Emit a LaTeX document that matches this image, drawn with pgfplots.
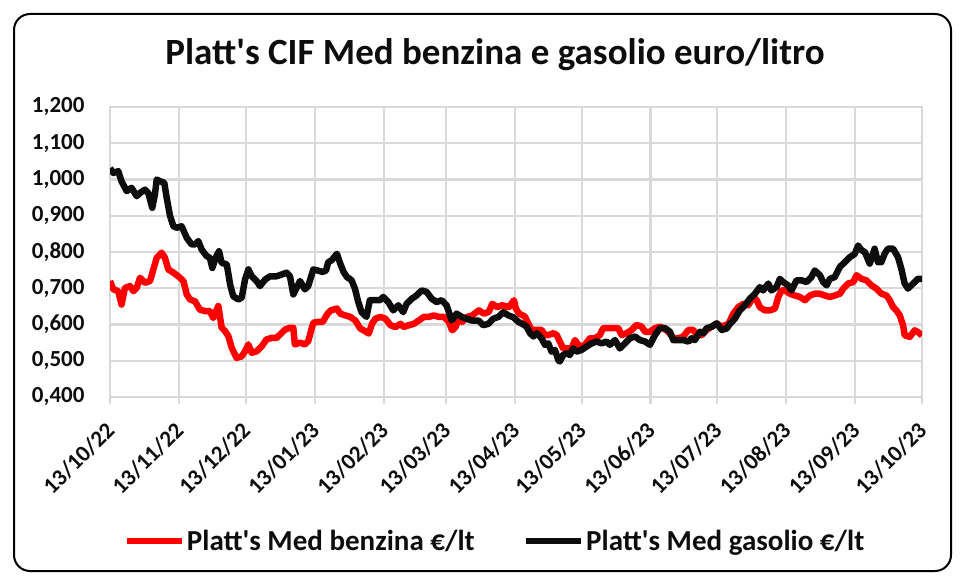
\documentclass[border=0pt]{standalone}
\usepackage{fontspec}
\setmainfont{Carlito}[Ligatures=TeXOff]
\usepackage{pgfplots}
\pgfplotsset{compat=1.18}
\definecolor{gridgray}{HTML}{D9D9D9}
\definecolor{lineblack}{HTML}{0D0D0D}
\definecolor{linered}{HTML}{FF0000}
\begin{document}
\begin{tikzpicture}[x=1pt,y=1pt]
\useasboundingbox (0,0) rectangle (962,-580);
\draw[line width=2pt, rounded corners=16pt, black] (14,-14) rectangle (951,-571);
\node[anchor=base, font=\fontsize{37}{44}\selectfont\bfseries, text=lineblack] at (495,-65) {Platt's CIF Med benzina e gasolio euro/litro};
\begin{axis}[
  at={(110pt,-397pt)}, anchor=south west,
  width=812pt, height=290pt, scale only axis,
  xmin=0, xmax=365, ymin=0.4, ymax=1.2,
  xtick={0,31,61,92,123,151,182,212,243,273,304,335,365},
  xticklabels={13/10/22,13/11/22,13/12/22,13/01/23,13/02/23,13/03/23,13/04/23,13/05/23,13/06/23,13/07/23,13/08/23,13/09/23,13/10/23},
  ytick={0.4,0.5,0.6,0.7,0.8,0.9,1.0,1.1,1.2},
  grid=major, major grid style={gridgray, line width=2.2pt},
  axis line style={gridgray, line width=2.2pt},
  tick pos=left, tick align=outside, major tick length=7pt,
  xtick style={gridgray, line width=2.2pt},
  ytick style={draw=none},
  ticklabel style={font=\fontsize{23}{27}\selectfont\bfseries, text=lineblack},
  yticklabel style={xshift=-15pt, /pgf/number format/.cd, fixed, fixed zerofill, precision=3, use comma, assume math mode=true},
  xticklabel style={xshift=3pt, yshift=-20pt, rotate=45, anchor=east},
  legend style={at={(0.474,-0.4966)}, anchor=center, draw=none, fill=none,
    legend columns=2, font=\fontsize{29}{34}\selectfont\bfseries, text=lineblack,
    nodes={inner sep=2pt},
    /tikz/every even column/.append style={column sep=46pt}},
  legend image code/.code={\draw[#1] (0pt,0pt) -- (55pt,0pt);},
]
\addplot[linered, line width=6.5pt, line join=round] coordinates {
(0,0.720)(1.5,0.697)(3.7,0.692)(5.2,0.655)(6.7,0.701)(9,0.706)(10.5,0.692)(12,0.701)(13.5,0.729)(15.7,0.715)(18,0.720)(19.5,0.752)(21,0.784)(23.2,0.798)(24.7,0.784)(26.2,0.752)(28.5,0.743)(30.7,0.733)(33,0.720)(34.5,0.683)(36,0.669)(38.2,0.664)(40.4,0.641)(42.7,0.637)(44.9,0.637)(46.4,0.618)(48.7,0.651)(50.2,0.591)(51.7,0.582)(53.2,0.568)(54.7,0.536)(56.9,0.508)(59.2,0.512)(60.7,0.526)(62.2,0.545)(63.7,0.522)(65.9,0.526)(68.2,0.540)(70.4,0.559)(72.7,0.563)(74.9,0.563)(76.4,0.572)(78.7,0.586)(80.9,0.591)(82.4,0.591)(83.1,0.545)(85.4,0.550)(87.6,0.545)(89.1,0.554)(91.4,0.605)
(93.3,0.607)(95.6,0.607)(97.8,0.630)(99.3,0.639)(102,0.644)(103.5,0.630)(105.8,0.625)(108,0.621)(110.3,0.611)(112.5,0.589)(114,0.584)(116.3,0.575)(117.8,0.602)(119.3,0.616)(121.6,0.621)(123.8,0.616)(126.1,0.598)(128.3,0.593)(130.6,0.602)(132,0.593)(134.3,0.598)(136.6,0.602)(138.8,0.611)(141.1,0.621)(143.3,0.621)(145.6,0.625)(147.8,0.621)(150.1,0.621)(152.3,0.607)(153.8,0.584)(155.3,0.593)(156.8,0.616)(158.3,0.607)(160.6,0.621)(162.8,0.625)(165.8,0.639)(168.1,0.630)(170.3,0.635)(171.8,0.657)(174.1,0.648)(176.3,0.653)(179.3,0.648)(181.6,0.667)(182.4,0.644)(183.9,0.630)
(186.5,0.622)(188,0.603)(189.5,0.585)(191.8,0.585)(194,0.585)(195.5,0.571)(197,0.571)(199.3,0.576)(200.8,0.571)(202.2,0.553)(203.7,0.534)(206,0.534)(207.5,0.534)(209,0.557)(210.5,0.544)(212,0.539)(213.5,0.544)(215.7,0.562)(218,0.562)(220.2,0.571)(221.7,0.590)(224,0.590)(226.2,0.590)(228.5,0.590)(230,0.571)(232.2,0.576)(234.5,0.585)(236.7,0.599)(239,0.594)(240.5,0.580)(242.7,0.580)(245,0.590)(247.2,0.594)(248.7,0.590)(251,0.580)(253.2,0.562)(255.5,0.562)(257.7,0.567)(260,0.585)(262.2,0.585)(263.7,0.571)(266,0.571)(268.2,0.585)(270.5,0.594)(272.7,0.603)(275,0.594)
(278,0.602)(280.2,0.630)(282.4,0.648)(284.7,0.657)(286.9,0.653)(289.2,0.676)(290.7,0.667)(292.1,0.648)(294.4,0.639)(296.6,0.639)(298.9,0.644)(300.4,0.676)(301.9,0.694)(303.4,0.694)(305.6,0.685)(307.9,0.680)(310.1,0.676)(312.4,0.667)(314.6,0.680)(316.8,0.685)(319.1,0.685)(321.3,0.680)(323.6,0.676)(325.8,0.680)(328.1,0.685)(329.6,0.699)(331.8,0.713)(334.1,0.717)(335.6,0.736)(337.8,0.726)(340,0.722)(342.3,0.708)(344.5,0.699)(346.8,0.685)(349,0.680)(350.5,0.667)(352,0.648)(353.5,0.639)(355,0.625)(356.5,0.598)(357.2,0.570)(359.5,0.566)(361.7,0.584)(363.2,0.579)(365,0.570)
};
\addlegendentry{Platt's Med benzina €/lt}
\addplot[lineblack, line width=6.5pt, line join=round] coordinates {
(0,1.031)(1.5,1.018)(3.7,1.023)(5.2,0.995)(7.5,0.968)(9.7,0.977)(12,0.954)(13.5,0.963)(15.7,0.972)(17.2,0.963)(19,0.922)(20.2,0.959)(21,1.0)(22.5,0.995)(24.4,0.991)(25.5,0.949)(27,0.899)(28.5,0.871)(30,0.867)(32.2,0.871)(34.5,0.839)(36.7,0.821)(38.2,0.821)(39.7,0.830)(41.2,0.807)(43.4,0.789)(44.9,0.784)(46,0.756)(47.5,0.784)(49,0.802)(50.2,0.770)(52.5,0.766)(54,0.710)(55.4,0.678)(57.7,0.669)(59.2,0.674)(60.7,0.724)(62.2,0.752)(63.7,0.733)(65.9,0.720)(67.4,0.706)(69.7,0.724)(71.9,0.733)(74.9,0.733)(77.2,0.738)(79.4,0.743)(80.9,0.733)(82.4,0.683)(83.9,0.701)(85.4,0.720)(87.6,0.697)(89.1,0.706)(91.4,0.752)
(93.3,0.749)(95.6,0.745)(97.1,0.749)(98.1,0.772)(99.6,0.777)(102,0.795)(103.5,0.768)(105,0.745)(106.5,0.731)(108.6,0.722)(110.1,0.699)(111.6,0.662)(113.1,0.634)(115.3,0.621)(116.8,0.667)(119.1,0.667)(121.3,0.667)(122.8,0.676)(125.1,0.662)(127.3,0.639)(129.6,0.653)(131.8,0.634)(133.3,0.657)(135.6,0.671)(137.8,0.680)(140.1,0.694)(142.3,0.690)(144.6,0.671)(146.8,0.662)(149.1,0.667)(151.3,0.653)(153.6,0.611)(155.8,0.630)(158.1,0.621)(160.3,0.616)(162.6,0.611)(165.6,0.611)(167.8,0.598)(170.1,0.602)(172.3,0.616)(174.6,0.621)(176.8,0.634)(179.1,0.625)(181.3,0.620)(183.6,0.607)
(185,0.603)(187.3,0.594)(188.8,0.576)(190.3,0.567)(191.8,0.576)(194,0.562)(195.5,0.544)(197,0.548)(198.5,0.525)(200,0.530)(201.5,0.502)(202.2,0.498)(203.7,0.516)(205.2,0.521)(206.7,0.516)(208.2,0.534)(209.7,0.525)(212,0.530)(214.2,0.539)(216.5,0.548)(218.7,0.553)(221,0.548)(223.2,0.553)(224.7,0.544)(227,0.557)(229.2,0.534)(231.5,0.548)(233.7,0.562)(236,0.567)(238.2,0.557)(240.5,0.553)(242.7,0.544)(245,0.571)(247.2,0.590)(249.5,0.590)(251.7,0.580)(253.2,0.557)(255.5,0.557)(257.7,0.557)(260,0.553)(261.4,0.562)(262.9,0.557)(265.2,0.580)(266.7,0.576)(268.2,0.590)(270.5,0.594)(272.7,0.603)(275,0.585)
(277.2,0.589)(278.7,0.602)(280.9,0.616)(283.1,0.639)(285.4,0.653)(287.6,0.671)(289.9,0.685)(292.1,0.703)(293.6,0.694)(295.9,0.713)(297.3,0.694)(299.6,0.703)(301.1,0.726)(302.6,0.717)(304.8,0.708)(306.3,0.694)(308.6,0.722)(310.8,0.722)(313.1,0.717)(315.3,0.731)(316.8,0.749)(319.1,0.736)(320.6,0.717)(322.1,0.708)(323.6,0.726)(325.8,0.731)(328.1,0.759)(330.3,0.772)(332.6,0.786)(334.8,0.795)(336.3,0.818)(337.8,0.805)(339.3,0.800)(341.5,0.768)(343.7,0.809)(345.2,0.772)(346.7,0.772)(348.2,0.795)(349.7,0.809)(352,0.809)(354.2,0.786)(355.7,0.754)(357.2,0.713)(358.7,0.699)(361,0.713)(363.2,0.726)(365,0.726)
};
\addlegendentry{Platt's Med gasolio €/lt}
\end{axis}
\end{tikzpicture}
\end{document}
